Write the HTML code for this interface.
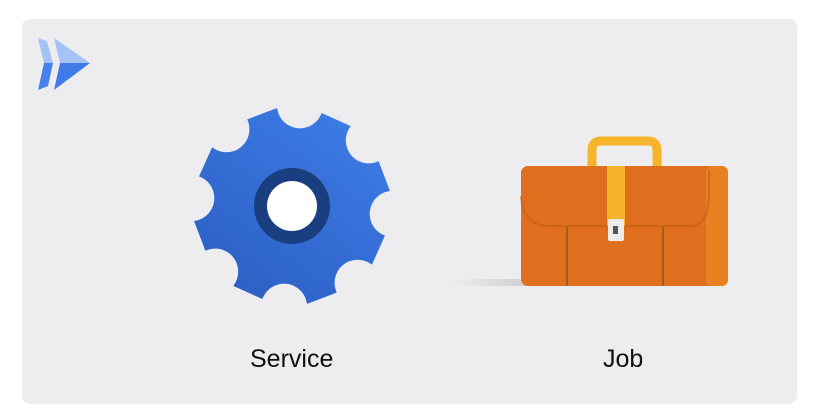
<!DOCTYPE html>
<html><head><style>
body{margin:0;background:#fff;width:813px;height:419px;overflow:hidden;font-family:"Liberation Sans",sans-serif}
.card{position:absolute;left:22px;top:19px;width:775px;height:385px;background:#ededf0;border-radius:8px}
.lbl{position:absolute;font-size:25px;color:#111;}
</style></head><body>
<div class="card"></div>
<svg width="813" height="419" style="position:absolute;left:0;top:0">
<defs>
<linearGradient id="g" x1="1" y1="0" x2="0" y2="1"><stop offset="0" stop-color="#3f7fea"/><stop offset="1" stop-color="#2a5cc0"/></linearGradient>
<linearGradient id="sh" x1="0" x2="1"><stop offset="0" stop-color="#ededf0"/><stop offset="1" stop-color="#cfcfd3"/></linearGradient>
<mask id="m">
<rect x="-120" y="-120" width="240" height="240" fill="#fff"/>
<g fill="#000" transform="rotate(13.5)">
<circle cx="0" cy="-101" r="23"/><circle cx="0" cy="-101" r="23" transform="rotate(45)"/>
<circle cx="0" cy="-101" r="23" transform="rotate(90)"/><circle cx="0" cy="-101" r="23" transform="rotate(135)"/>
<circle cx="0" cy="-101" r="23" transform="rotate(180)"/><circle cx="0" cy="-101" r="23" transform="rotate(225)"/>
<circle cx="0" cy="-101" r="23" transform="rotate(270)"/><circle cx="0" cy="-101" r="23" transform="rotate(315)"/>
</g>
</mask>
</defs>
<polygon points="38,38 47,41 53,63 44,63" fill="#a5c2f6"/>
<polygon points="44,63 53,63 48,86 38,90" fill="#4682ee"/>
<polygon points="54,38 90,63 60,63" fill="#a5c2f6"/>
<polygon points="60,63 90,63 54,90" fill="#3f7ae8"/>
<g transform="translate(292,206)">
<path mask="url(#m)" fill="url(#g)" d="M0,-99 L38,-91 L70,-70 L91,-38 L99,0 L91,38 L70,70 L38,91 L0,99 L-38,91 L-70,70 L-91,38 L-99,0 L-91,-38 L-70,-70 L-38,-91 Z" transform="rotate(-9)"/>
</g>
<circle cx="292" cy="206" r="38" fill="#1a3f80"/>
<circle cx="292" cy="206" r="25" fill="#fff"/>
<rect x="452" y="279" width="75" height="7" fill="url(#sh)"/>
<path d="M592,166 V150 Q592,141 601,141 H648 Q657,141 657,150 V166" fill="none" stroke="#f6b42a" stroke-width="9"/>
<rect x="521" y="166" width="207" height="120" rx="7" fill="#df6f1f"/>
<rect x="706" y="166" width="22" height="120" rx="6" fill="#e8811f"/>
<path d="M521,196 Q523,226 550,226 H690 Q708,226 709,196 V170" fill="none" stroke="#c05d1a" stroke-width="2" opacity=".6"/>
<line x1="567" y1="227" x2="567" y2="286" stroke="#a9561a" stroke-width="2"/>
<line x1="663" y1="227" x2="663" y2="286" stroke="#a9561a" stroke-width="2"/>
<rect x="607" y="166" width="18" height="60" fill="#f6b42a"/>
<rect x="608" y="219" width="16" height="22" rx="2" fill="#ececec"/>
<rect x="613" y="226" width="5" height="8" fill="#555"/>
</svg>
<div class="lbl" style="left:250px;top:345px">Service</div>
<div class="lbl" style="left:603px;top:345px">Job</div>
</body></html>
